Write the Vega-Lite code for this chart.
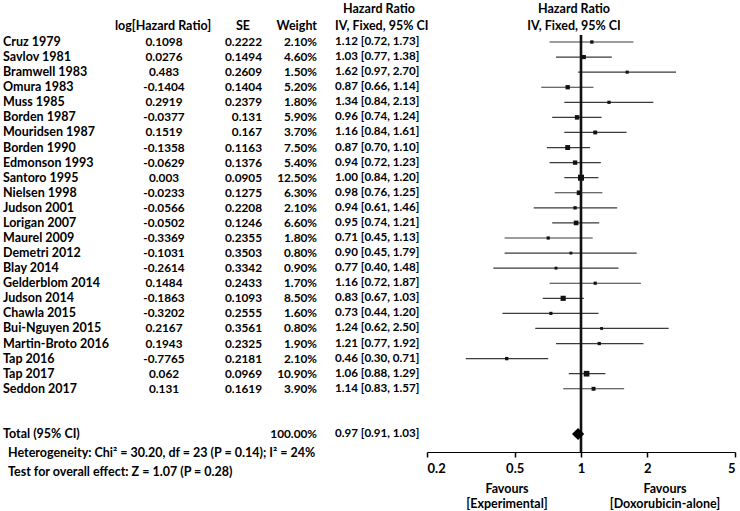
{
  "$schema": "https://vega.github.io/schema/vega-lite/v6.json",
  "width": 740,
  "height": 452,
  "autosize": "none",
  "padding": {"left": 0, "top": 0, "right": 0, "bottom": 59},
  "background": "white",
  "config": {
    "view": {"stroke": null},
    "text": {"font": "Lato", "fontWeight": "bold", "fontSize": 12.5, "color": "#000", "baseline": "middle"},
    "axis": {"labelFont": "Lato"}
  },
  "datasets": {
    "studies": [
      {"study": "Cruz 1979", "loghr": 0.1098, "se": 0.2222, "weight": 0.021, "hr": 1.12, "lo": 0.72, "hi": 1.73, "ci": "1.12 [0.72, 1.73]"},
      {"study": "Savlov 1981", "loghr": 0.0276, "se": 0.1494, "weight": 0.046, "hr": 1.03, "lo": 0.77, "hi": 1.38, "ci": "1.03 [0.77, 1.38]"},
      {"study": "Bramwell 1983", "loghr": 0.483, "se": 0.2609, "weight": 0.015, "hr": 1.62, "lo": 0.97, "hi": 2.70, "ci": "1.62 [0.97, 2.70]"},
      {"study": "Omura 1983", "loghr": -0.1404, "se": 0.1404, "weight": 0.052, "hr": 0.87, "lo": 0.66, "hi": 1.14, "ci": "0.87 [0.66, 1.14]"},
      {"study": "Muss 1985", "loghr": 0.2919, "se": 0.2379, "weight": 0.018, "hr": 1.34, "lo": 0.84, "hi": 2.13, "ci": "1.34 [0.84, 2.13]"},
      {"study": "Borden 1987", "loghr": -0.0377, "se": 0.131, "weight": 0.059, "hr": 0.96, "lo": 0.74, "hi": 1.24, "ci": "0.96 [0.74, 1.24]"},
      {"study": "Mouridsen 1987", "loghr": 0.1519, "se": 0.167, "weight": 0.037, "hr": 1.16, "lo": 0.84, "hi": 1.61, "ci": "1.16 [0.84, 1.61]"},
      {"study": "Borden 1990", "loghr": -0.1358, "se": 0.1163, "weight": 0.075, "hr": 0.87, "lo": 0.70, "hi": 1.10, "ci": "0.87 [0.70, 1.10]"},
      {"study": "Edmonson 1993", "loghr": -0.0629, "se": 0.1376, "weight": 0.054, "hr": 0.94, "lo": 0.72, "hi": 1.23, "ci": "0.94 [0.72, 1.23]"},
      {"study": "Santoro 1995", "loghr": 0.003, "se": 0.0905, "weight": 0.125, "hr": 1.00, "lo": 0.84, "hi": 1.20, "ci": "1.00 [0.84, 1.20]"},
      {"study": "Nielsen 1998", "loghr": -0.0233, "se": 0.1275, "weight": 0.063, "hr": 0.98, "lo": 0.76, "hi": 1.25, "ci": "0.98 [0.76, 1.25]"},
      {"study": "Judson 2001", "loghr": -0.0566, "se": 0.2208, "weight": 0.021, "hr": 0.94, "lo": 0.61, "hi": 1.46, "ci": "0.94 [0.61, 1.46]"},
      {"study": "Lorigan 2007", "loghr": -0.0502, "se": 0.1246, "weight": 0.066, "hr": 0.95, "lo": 0.74, "hi": 1.21, "ci": "0.95 [0.74, 1.21]"},
      {"study": "Maurel 2009", "loghr": -0.3369, "se": 0.2355, "weight": 0.018, "hr": 0.71, "lo": 0.45, "hi": 1.13, "ci": "0.71 [0.45, 1.13]"},
      {"study": "Demetri 2012", "loghr": -0.1031, "se": 0.3503, "weight": 0.008, "hr": 0.90, "lo": 0.45, "hi": 1.79, "ci": "0.90 [0.45, 1.79]"},
      {"study": "Blay 2014", "loghr": -0.2614, "se": 0.3342, "weight": 0.009, "hr": 0.77, "lo": 0.40, "hi": 1.48, "ci": "0.77 [0.40, 1.48]"},
      {"study": "Gelderblom 2014", "loghr": 0.1484, "se": 0.2433, "weight": 0.017, "hr": 1.16, "lo": 0.72, "hi": 1.87, "ci": "1.16 [0.72, 1.87]"},
      {"study": "Judson 2014", "loghr": -0.1863, "se": 0.1093, "weight": 0.085, "hr": 0.83, "lo": 0.67, "hi": 1.03, "ci": "0.83 [0.67, 1.03]"},
      {"study": "Chawla 2015", "loghr": -0.3202, "se": 0.2555, "weight": 0.016, "hr": 0.73, "lo": 0.44, "hi": 1.20, "ci": "0.73 [0.44, 1.20]"},
      {"study": "Bui-Nguyen 2015", "loghr": 0.2167, "se": 0.3561, "weight": 0.008, "hr": 1.24, "lo": 0.62, "hi": 2.50, "ci": "1.24 [0.62, 2.50]"},
      {"study": "Martin-Broto 2016", "loghr": 0.1943, "se": 0.2325, "weight": 0.019, "hr": 1.21, "lo": 0.77, "hi": 1.92, "ci": "1.21 [0.77, 1.92]"},
      {"study": "Tap 2016", "loghr": -0.7765, "se": 0.2181, "weight": 0.021, "hr": 0.46, "lo": 0.30, "hi": 0.71, "ci": "0.46 [0.30, 0.71]"},
      {"study": "Tap 2017", "loghr": 0.062, "se": 0.0969, "weight": 0.109, "hr": 1.06, "lo": 0.88, "hi": 1.29, "ci": "1.06 [0.88, 1.29]"},
      {"study": "Seddon 2017", "loghr": 0.131, "se": 0.1619, "weight": 0.039, "hr": 1.14, "lo": 0.83, "hi": 1.57, "ci": "1.14 [0.83, 1.57]"}
    ],
    "total": [
      {"study": "Total (95% CI)", "weight": 1, "hr": 0.97, "lo": 0.91, "hi": 1.03, "ci": "0.97 [0.91, 1.03]"}
    ],
    "one": [{}]
  },
  "data": {"name": "studies"},
  "encoding": {
    "y": {
      "field": "study", "type": "nominal", "axis": null,
      "scale": {
        "type": "point", "padding": 0,
        "domain": ["Cruz 1979", "Savlov 1981", "Bramwell 1983", "Omura 1983", "Muss 1985", "Borden 1987", "Mouridsen 1987", "Borden 1990", "Edmonson 1993", "Santoro 1995", "Nielsen 1998", "Judson 2001", "Lorigan 2007", "Maurel 2009", "Demetri 2012", "Blay 2014", "Gelderblom 2014", "Judson 2014", "Chawla 2015", "Bui-Nguyen 2015", "Martin-Broto 2016", "Tap 2016", "Tap 2017", "Seddon 2017", "gap1", "gap2", "Total (95% CI)"],
        "range": [42, 434]
      }
    }
  },
  "layer": [
    {
      "mark": {"type": "rule", "color": "#3a3a3a", "strokeWidth": 1.2},
      "encoding": {
        "x": {
          "field": "lo", "type": "quantitative",
          "scale": {"type": "log", "domain": [0.2, 5], "range": [427, 735], "nice": false, "zero": false},
          "axis": {
            "values": [0.2, 0.5, 1, 2, 5], "format": "~g", "title": null, "grid": false,
            "domainColor": "#000", "domainWidth": 1, "tickColor": "#000", "tickSize": 5, "tickWidth": 1.5,
            "labelFont": "Lato", "labelFontWeight": "bold", "labelFontSize": 13, "labelColor": "#000", "labelPadding": 5
          }
        },
        "x2": {"field": "hi"}
      }
    },
    {
      "mark": {"type": "point", "shape": "square", "filled": true, "color": "#111", "opacity": 1},
      "encoding": {
        "x": {"field": "hr", "type": "quantitative"},
        "size": {"field": "weight", "type": "quantitative", "legend": null, "scale": {"domain": [0.008, 0.125], "range": [8, 36]}}
      }
    },
    {
      "mark": {"type": "rule", "color": "#111", "strokeWidth": 2.6, "yOffset": -7},
      "data": {"name": "one"},
      "encoding": {"x": {"datum": 1, "type": "quantitative"}, "y": {"datum": "Cruz 1979"}, "y2": {"value": 452}}
    },
    {"mark": {"type": "text", "align": "left"}, "encoding": {"x": {"value": 3}, "text": {"field": "study", "type": "nominal"}}},
    {"mark": {"type": "text", "align": "center", "fontSize": 11.8}, "encoding": {"x": {"value": 164}, "text": {"field": "loghr", "type": "nominal"}}},
    {"mark": {"type": "text", "align": "right", "fontSize": 11.8}, "encoding": {"x": {"value": 262}, "text": {"field": "se", "type": "nominal"}}},
    {"mark": {"type": "text", "align": "right", "fontSize": 11.8}, "encoding": {"x": {"value": 317}, "text": {"field": "weight", "type": "quantitative", "format": ".2%"}}},
    {"mark": {"type": "text", "align": "left", "fontSize": 11.6}, "encoding": {"x": {"value": 335}, "text": {"field": "ci", "type": "nominal"}}},
    {"data": {"name": "total"}, "mark": {"type": "text", "align": "left"}, "encoding": {"x": {"value": 3}, "text": {"field": "study", "type": "nominal"}}},
    {"data": {"name": "total"}, "mark": {"type": "text", "align": "right", "fontSize": 11.8}, "encoding": {"x": {"value": 317}, "text": {"field": "weight", "type": "quantitative", "format": ".2%"}}},
    {"data": {"name": "total"}, "mark": {"type": "text", "align": "left", "fontSize": 11.6}, "encoding": {"x": {"value": 335}, "text": {"field": "ci", "type": "nominal"}}},
    {
      "data": {"name": "total"},
      "mark": {"type": "point", "shape": "diamond", "filled": true, "color": "#000", "opacity": 1, "size": 150},
      "encoding": {"x": {"field": "hr", "type": "quantitative"}}
    },
    {
      "data": {"name": "total"},
      "mark": {"type": "text", "align": "left", "dy": 19, "text": "Heterogeneity: Chi² = 30.20, df = 23 (P = 0.14); I² = 24%"},
      "encoding": {"x": {"value": 8}}
    },
    {
      "data": {"name": "total"},
      "mark": {"type": "text", "align": "left", "dy": 38, "text": "Test for overall effect: Z = 1.07 (P = 0.28)"},
      "encoding": {"x": {"value": 8}}
    },
    {"data": {"name": "one"}, "mark": {"type": "text", "align": "center", "text": "Hazard Ratio"}, "encoding": {"x": {"value": 379}, "y": {"value": 9}}},
    {"data": {"name": "one"}, "mark": {"type": "text", "align": "center", "text": "Hazard Ratio"}, "encoding": {"x": {"value": 574}, "y": {"value": 9}}},
    {"data": {"name": "one"}, "mark": {"type": "text", "align": "center", "text": "log[Hazard Ratio]"}, "encoding": {"x": {"value": 163}, "y": {"value": 26}}},
    {"data": {"name": "one"}, "mark": {"type": "text", "align": "center", "text": "SE"}, "encoding": {"x": {"value": 243}, "y": {"value": 26}}},
    {"data": {"name": "one"}, "mark": {"type": "text", "align": "right", "text": "Weight"}, "encoding": {"x": {"value": 317}, "y": {"value": 26}}},
    {"data": {"name": "one"}, "mark": {"type": "text", "align": "left", "text": "IV, Fixed, 95% CI"}, "encoding": {"x": {"value": 335}, "y": {"value": 26}}},
    {"data": {"name": "one"}, "mark": {"type": "text", "align": "center", "text": "IV, Fixed, 95% CI"}, "encoding": {"x": {"value": 574}, "y": {"value": 26}}},
    {"data": {"name": "one"}, "mark": {"type": "text", "align": "center", "lineHeight": 15, "text": ["Favours", "[Experimental]"]}, "encoding": {"x": {"value": 507}, "y": {"value": 489}}},
    {"data": {"name": "one"}, "mark": {"type": "text", "align": "center", "lineHeight": 15, "text": ["Favours", "[Doxorubicin-alone]"]}, "encoding": {"x": {"value": 665}, "y": {"value": 489}}}
  ]
}
